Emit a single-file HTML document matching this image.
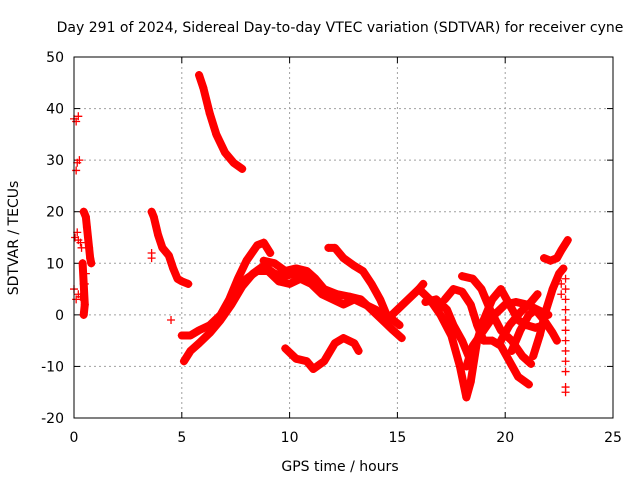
<!DOCTYPE html>
<html><head><meta charset="utf-8"><style>
html,body{margin:0;padding:0;background:#fff}
svg{display:block;font-family:"DejaVu Sans","Liberation Sans",sans-serif}
</style></head><body>
<svg id="chart" width="640" height="480" viewBox="0 0 640 480" xmlns="http://www.w3.org/2000/svg">
<text x="340" y="32" font-size="14" text-anchor="middle">Day 291 of 2024, Sidereal Day-to-day VTEC variation (SDTVAR) for receiver cyne</text>
<text x="340" y="471" font-size="14" text-anchor="middle">GPS time / hours</text>
<text x="18" y="238" font-size="14" text-anchor="middle" transform="rotate(-90 18 238)">SDTVAR / TECUs</text>
<g id="grid"></g>
<g id="ticks"></g>
<g id="marks"></g>
<rect x="74" y="57" width="539" height="361" fill="none" stroke="#000" stroke-width="1"/>
</svg>
<script>
const xTicks=[0,5,10,15,20,25];
const yTicks=[-20,-10,0,10,20,30,40,50];
const trackTop=[[5.8,46.5],[6.0,44],[6.3,39],[6.6,35],[7.0,31.5],[7.4,29.5],[7.8,28.3]];
const trackEarly1=[[3.6,20],[3.7,19],[3.9,15.5],[4.1,13],[4.4,11.5],[4.6,9],[4.8,7],[5.0,6.5],[5.3,6]];
const trackB1=[[5.0,-4],[5.4,-4],[5.8,-3],[6.3,-2],[6.8,0],[7.2,3],[7.6,7],[8.0,10.5],[8.5,13.5],[8.8,14],[9.1,12]];
const trackB2=[[5.1,-9],[5.4,-7],[5.8,-5.5],[6.3,-3.5],[6.8,-1],[7.3,2],[7.8,5.5],[8.3,8],[8.8,9.5],[9.3,8],[9.7,7.5],[10.3,8],[10.8,7],[11.3,5]];
const trackB3=[[7.0,1],[7.5,4],[8.0,7],[8.5,8.5],[9.0,8.5],[9.5,6.5],[10,6],[10.5,7],[11,6],[11.5,4],[12,3],[12.5,2],[13,3],[13.5,2],[14,1],[14.5,-1],[15,1],[15.5,3],[16,5],[16.2,6]];
const trackB4=[[8.8,10.5],[9.3,10],[9.8,8.5],[10.3,9],[10.8,8.5],[11.2,7],[11.6,5],[12.2,4],[12.8,3.5],[13.3,3],[13.8,1],[14.3,-1],[14.8,-3],[15.2,-4.5]];
const trackMid=[[11.8,13],[12.1,13],[12.5,11],[13,9.5],[13.4,8.5],[13.8,6],[14.2,3],[14.5,0],[14.8,-1],[15.1,-2]];
const trackLow=[[9.8,-6.5],[10.3,-8.5],[10.8,-9],[11.1,-10.5],[11.6,-9],[12.1,-5.5],[12.5,-4.5],[13.0,-5.5],[13.2,-7]];
const trackR1=[[16.0,5],[16.5,3],[17.0,0],[17.5,-4],[17.9,-10],[18.2,-16],[18.4,-13],[18.7,-5],[19.0,-1],[19.4,3],[19.8,5],[20.2,2],[20.6,-1],[21.0,-2],[21.4,-2.5],[21.8,-2]];
const trackR2=[[17.2,3],[17.6,5],[18.0,4.5],[18.4,2],[18.7,-2],[19.0,-5],[19.4,-5],[19.8,-6],[20.2,-9],[20.6,-12],[21.1,-13.5]];
const trackR3=[[18.0,7.5],[18.5,7],[18.9,5],[19.3,1],[19.8,-3],[20.3,-5],[20.8,-8],[21.2,-9.5]];
const trackR4=[[16.3,2.5],[16.8,3],[17.3,1],[17.6,-2],[18.0,-5],[18.3,-8]];
const trackR5=[[18.2,-10],[18.5,-6],[19.0,-3],[19.5,0],[20.0,2],[20.5,2.5],[21.0,2],[21.5,1],[22.0,0]];
const trackR6=[[19.8,-5],[20.2,-2],[20.7,0.5],[21.2,2.5],[21.5,4]];
const trackR7=[[20.3,-7],[20.7,-3],[21.1,0],[21.4,1],[21.8,-1],[22.2,-3.5],[22.4,-5]];
const trackR8=[[21.3,-8],[21.6,-4],[21.9,1],[22.2,5],[22.5,8],[22.7,9]];
const trackR9=[[21.8,11],[22.1,10.5],[22.4,11],[22.6,12.5],[22.9,14.5]];
const trackEdge1=[[0.45,20],[0.55,19],[0.6,17],[0.65,15],[0.7,13],[0.75,11],[0.8,10]];
const trackEdge2=[[0.4,10],[0.45,6],[0.5,2],[0.45,0]];
const scatterPts=[[0,38],[0.1,37.5],[0.2,38.5],[0.1,28],[0.15,29.5],[0.25,30],[0.05,15],[0.15,16],[0.2,14.5],[0.3,14],[0,5],[0.1,3],[0.2,4],[0.3,3.5],[0.5,6],[0.55,8],[0.35,13],[3.6,12],[3.6,11],[4.5,-1],[22.8,-15],[22.8,-14],[22.8,-11],[22.8,-9],[22.8,-7],[22.8,-5],[22.8,-3],[22.8,-1],[22.8,1],[22.8,3],[22.8,5],[22.8,7],[22.6,6],[22.6,4]];
const tracks=[trackTop,trackEarly1,trackB1,trackB2,trackB3,trackB4,trackMid,trackLow,trackR1,trackR2,trackR3,trackR4,trackR5,trackR6,trackR7,trackR8,trackR9,trackEdge1,trackEdge2];

const X0=74,X1=613,Y0=418,Y1=57;
const xs=t=>X0+(t-0)/25*(X1-X0);
const ys=v=>Y0-(v+20)/70*(Y0-Y1);
const NS="http://www.w3.org/2000/svg";
function mk(tag,attrs,parent){const e=document.createElementNS(NS,tag);for(const k in attrs)e.setAttribute(k,attrs[k]);parent.appendChild(e);return e;}
const grid=document.getElementById('grid'),ticks=document.getElementById('ticks'),marks=document.getElementById('marks');
xTicks.forEach(t=>{
  const x=xs(t);
  if(t>0&&t<25){const g=mk('line',{x1:x,x2:x,y1:Y1,y2:Y0,stroke:'#a0a0a0','stroke-dasharray':'2,3'},grid);
  
  }
  const a=mk('line',{x1:x,x2:x,y1:Y0,y2:Y0-6,stroke:'#000'},ticks);
  
  
  mk('line',{x1:x,x2:x,y1:Y1,y2:Y1+6,stroke:'#000'},ticks);
  const l=mk('text',{x:x,y:Y0+24,'font-size':14,'text-anchor':'middle'},ticks);
  l.textContent=t;
  
  
});
yTicks.forEach(v=>{
  const y=ys(v);
  if(v>-20&&v<50){const g=mk('line',{x1:X0,x2:X1,y1:y,y2:y,stroke:'#a0a0a0','stroke-dasharray':'2,3'},grid);
  
  }
  const a=mk('line',{x1:X0,x2:X0+6,y1:y,y2:y,stroke:'#000'},ticks);
  
  
  mk('line',{x1:X1,x2:X1-6,y1:y,y2:y,stroke:'#000'},ticks);
  const l=mk('text',{x:X0-10,y:y+5,'font-size':14,'text-anchor':'end'},ticks);
  l.textContent=v;
  
  
});
function plus(t,v){const x=xs(t),y=ys(v);
  const p=mk('path',{d:`M${x-4} ${y}H${x+4}M${x} ${y-4}V${y+4}`,stroke:'#f00','stroke-width':1.3},marks);
  
  }
tracks.forEach(tr=>{
  const pl=mk('polyline',{points:tr.map(p=>xs(p[0])+','+ys(p[1])).join(' '),fill:'none',stroke:'#f00','stroke-width':8,'stroke-linejoin':'round','stroke-linecap':'round'},marks);
  
  
  tr.forEach(p=>plus(p[0],p[1]));
});
scatterPts.forEach(p=>plus(p[0],p[1]));
</script>
</body></html>
